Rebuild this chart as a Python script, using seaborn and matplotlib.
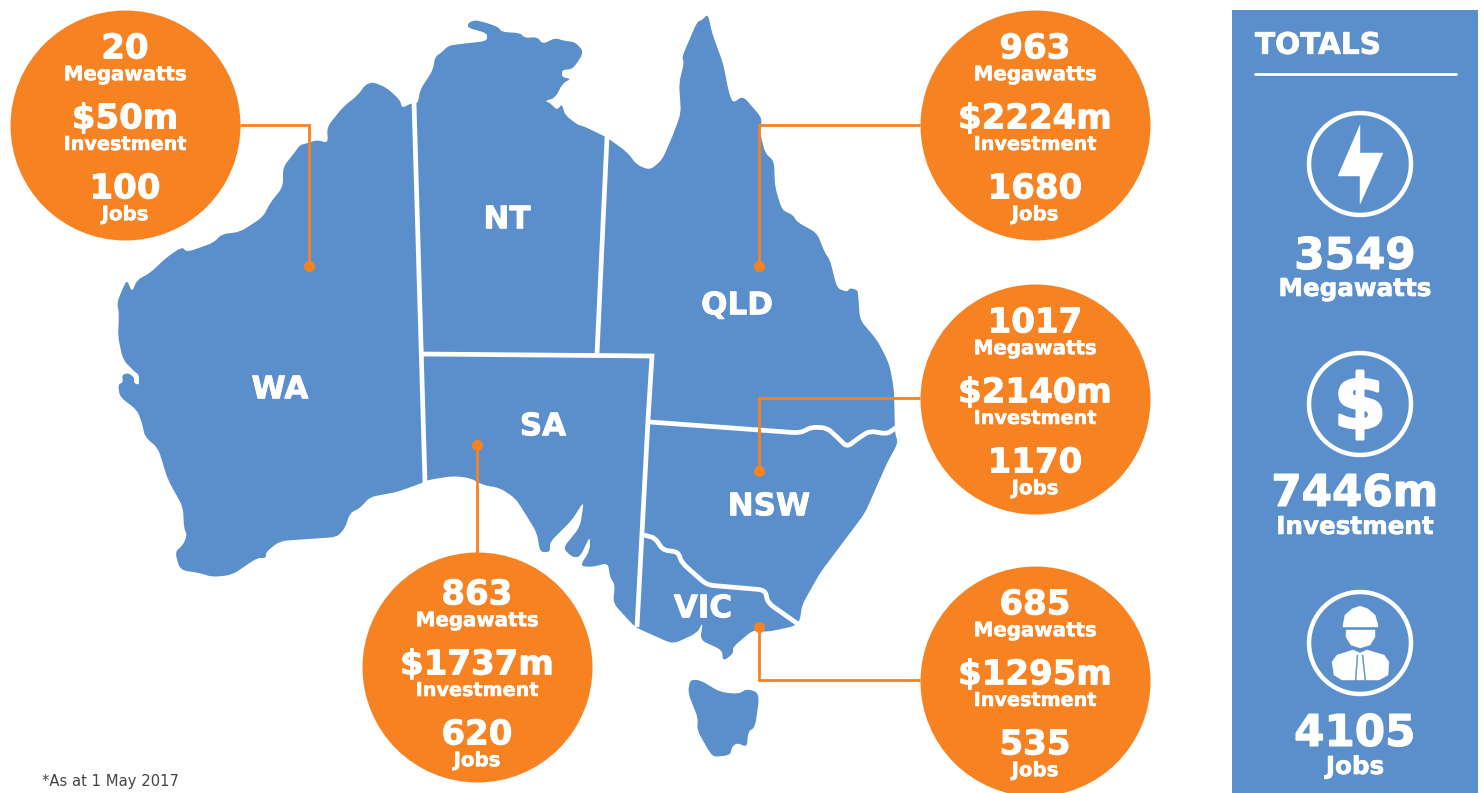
import math
import matplotlib
matplotlib.use("Agg")
import matplotlib.pyplot as plt
import matplotlib.patheffects as pe
from matplotlib.path import Path
from matplotlib.patches import PathPatch
import pandas as pd
import seaborn as sns

BLUE = "#5B8FCB"
ORANGE = "#F78222"
WHITE = "#FFFFFF"

states = ["WA", "QLD", "SA", "NSW", "VIC"]
megawatts = ["20", "963", "863", "1017", "685"]
investment = ["$50m", "$2224m", "$1737m", "$2140m", "$1295m"]
jobs = ["100", "1680", "620", "1170", "535"]
total_labels = ["Megawatts", "Investment", "Jobs"]
total_values = ["3549", "7446m", "4105"]
map_labels = ["WA", "NT", "QLD", "SA", "NSW", "VIC"]

mainland = [
    (412,103),(402,108),(400,100),(387,88),(373,82),(365,85),(358,95),(343,107),(327,127),(328,143),
    (317,140),(308,143),(300,145),(295,152),(283,167),(283,187),(270,203),(263,217),(240,232),(222,234),
    (213,243),(187,252),(182,247),(167,257),(150,273),(137,280),(132,292),(127,280),(122,290),(117,303),
    (119,313),(118,337),(123,360),(135,372),(139,375),(139,385),(134,383),(134,377),(128,373),(122,375),
    (123,382),(118,385),(120,397),(137,410),(142,423),(145,437),(158,448),(168,480),(183,507),(184,528),
    (187,535),(183,545),(175,552),(180,570),(200,573),(212,577),(232,575),(257,558),(266,558),(266,552),
    (280,541),(337,537),(345,528),(350,513),(360,508),(370,497),(397,492),(422,483),(428,480),(453,476),
    (470,478),(483,485),(500,488),(515,498),(523,510),(537,533),(540,552),(550,552),(550,542),(572,520),
    (584,501),(580,527),(563,548),(572,557),(580,557),(590,536),(590,550),(580,566),(592,567),(608,563),
    (610,577),(615,585),(613,603),(633,625),(639,629),(673,644),(697,633),(703,622),(700,640),(722,650),
    (723,661),(733,654),(733,647),(753,630),(767,632),(795,626),(800,620),(802,605),(820,573),(865,513),
    (887,463),(898,443),(895,433),(894,390),(890,367),(885,355),(877,340),(860,320),(858,293),(857,290),
    (850,288),(847,292),(837,288),(830,260),(825,253),(817,233),(797,222),(793,215),(782,210),(775,187),
    (774,161),(765,153),(760,132),(762,118),(743,96),(733,103),(729,93),(723,63),(712,33),(708,14),
    (702,20),(697,22),(682,57),(684,63),(679,83),(681,113),(673,135),(662,160),(650,170),(637,165),
    (627,152),(609,139),(604,136),(583,126),(578,125),(565,115),(562,104),(557,110),(550,103),(545,101),
    (555,98),(563,83),(571,79),(562,77),(562,70),(573,69),(584,52),(575,42),(565,41),(555,38),
    (543,44),(537,37),(525,38),(520,33),(502,32),(498,27),(487,23),(475,20),(468,23),(468,28),
    (487,33),(487,41),(452,45),(447,47),(442,52),(435,57),(433,70),(420,90),(418,103),
]
tasmania = [
    (690,680),(688,693),(698,718),(697,730),(710,753),(715,757),(730,755),(732,747),(737,743),(747,747),
    (748,732),(755,727),(759,700),(757,692),(747,689),(738,694),(720,692),(700,680),
]
straight_borders = [
    [(414,102),(425,483)],
    [(422,354),(652,356),(648,420),(637,627)],
    [(607,137),(597,354)],
]
curved_borders = [
    [(650,422),(800,433),(812,427),(827,428),(837,437),(847,447),(860,437),(870,431),(887,434),(897,427)],
    [(644,535),(655,538),(663,550),(678,552),(682,563),(707,585),(765,590),(768,603),(798,624)],
]
leaders = [
    [(240,125),(309,125),(309,266)],
    [(920,125),(759,125),(759,266)],
    [(477,445),(477,556)],
    [(920,398),(759,398),(759,471)],
    [(920,680),(759,680),(759,627)],
]
bolt = [(1360,125),(1338,176),(1360,176),(1360,204),(1383,153),(1360,153)]
helmet = [(1343,625),(1345,615),(1352,609),(1360,606),(1368,609),(1375,615),(1378,625),(1378,627),(1343,627)]
head = [(1346,630),(1375,630),(1375,637),(1370,645),(1360,648),(1351,645),(1346,637)]
body = [(1332,662),(1337,655),(1353,650),(1360,653),(1367,650),(1384,655),(1389,662),(1388,675),
        (1379,680),(1342,680),(1334,675)]
tie_left = [(1357,655),(1355,682),(1356,682),(1358,655)]
tie_right = [(1363,655),(1366,682),(1365,682),(1362,655)]

sns.set_theme(style="white")
plt.rcParams["font.family"] = ["DejaVu Sans"]

fig = plt.figure(figsize=(14.84, 7.93), dpi=100, facecolor="white")
ax = fig.add_axes([0, 0, 1, 1])

CAP = 0.729
PX = 72 / 100


def toward(v, other, t, limit):
    d = math.hypot(other[0] - v[0], other[1] - v[1])
    r = min(t * d, limit) / d if d else 0
    return (v[0] + (other[0] - v[0]) * r, v[1] + (other[1] - v[1]) * r)


def rounded(points, closed=True, t=0.35, limit=7):
    """Path through the outline points with softened corners."""
    n = len(points)
    verts, codes = [], []
    idx = range(n) if closed else range(1, n - 1)
    if not closed:
        verts.append(points[0]); codes.append(Path.MOVETO)
    for i in idx:
        v = points[i]
        a = toward(v, points[i - 1], t, limit)
        b = toward(v, points[(i + 1) % n], t, limit)
        verts.append(a); codes.append(Path.LINETO if verts[:-1] else Path.MOVETO)
        verts += [v, b]; codes += [Path.CURVE3, Path.CURVE3]
    if closed:
        verts.append(verts[0]); codes.append(Path.CLOSEPOLY)
    else:
        verts.append(points[-1]); codes.append(Path.LINETO)
    return Path(verts, codes)


def label(x, y, s, px, color=WHITE, ha="center", lift=1):
    ax.text(x, y - lift + CAP * px / 2, s, fontsize=px * PX, fontweight="bold",
            color=color, ha=ha, va="baseline", zorder=10,
            path_effects=[pe.withStroke(linewidth=px * 0.02, foreground=color)])


def poly(points, color, z):
    xs, ys = zip(*points)
    ax.fill(xs, ys, color=color, lw=0.3, zorder=z)


ax.add_patch(PathPatch(rounded(mainland), facecolor=BLUE, edgecolor="none", zorder=1))
ax.add_patch(PathPatch(rounded(tasmania), facecolor=BLUE, edgecolor="none", zorder=1))
for line in straight_borders:
    xs, ys = zip(*line)
    ax.plot(xs, ys, color=WHITE, lw=3.4, solid_joinstyle="miter", solid_capstyle="butt", zorder=2)
for line in curved_borders:
    ax.add_patch(PathPatch(rounded(line, closed=False), facecolor="none", edgecolor=WHITE,
                           lw=3.4, capstyle="butt", joinstyle="round", zorder=2))
for line in leaders:
    xs, ys = zip(*line)
    ax.plot(xs, ys, color=ORANGE, lw=2.0, solid_joinstyle="miter", solid_capstyle="butt", zorder=3)

circles = pd.DataFrame({
    "state": states,
    "x": [125, 1035, 477, 1035, 1035],
    "y": [125, 125, 667, 399, 681],
})
dots = pd.DataFrame({
    "state": states,
    "x": [309, 759, 477, 759, 759],
    "y": [266, 266, 445, 471, 627],
})
sns.scatterplot(data=circles, x="x", y="y", ax=ax, s=(230 * PX) ** 2, color=ORANGE,
                linewidth=0, zorder=4, legend=False)
sns.scatterplot(data=dots, x="x", y="y", ax=ax, s=(11 * PX) ** 2, color=ORANGE,
                linewidth=0, zorder=5, legend=False)

text_cy = [125, 125, 671, 399, 681]
for i, cx in enumerate(circles["x"]):
    cy = text_cy[i]
    label(cx, cy - 78, megawatts[i], 34)
    label(cx, cy - 51, "Megawatts", 19.8)
    label(cx, cy - 8, investment[i], 34)
    label(cx, cy + 19, "Investment", 19.2)
    label(cx, cy + 62, jobs[i], 34)
    label(cx, cy + 89, "Jobs", 19.8)

for s, x, y in zip(map_labels, [280, 507, 737, 543, 769, 703], [389, 219, 305, 426, 506, 608]):
    label(x, y, s, 31, lift=2)

# Totals panel
ax.add_patch(plt.Rectangle((1232, 10), 246, 790, facecolor=BLUE, edgecolor="none", zorder=1))
label(1255, 45, "TOTALS", 29.5, ha="left", lift=2)
ax.plot([1255, 1456], [74, 74], color=WHITE, lw=2.0, zorder=6)

rings = pd.DataFrame({"x": [1360, 1360, 1360], "y": [164, 404, 643]})
sns.scatterplot(data=rings, x="x", y="y", ax=ax, s=(102 * PX) ** 2, facecolor="none",
                edgecolor=WHITE, linewidth=4.5 * PX, zorder=6, legend=False)

poly(bolt, WHITE, 7)
ax.text(1360, 404 + 24, "$", fontsize=54, fontweight="bold", color=WHITE, ha="center",
        va="baseline", zorder=7, path_effects=[pe.withStroke(linewidth=2.2, foreground=WHITE)])
poly(helmet, WHITE, 7)
poly(head, WHITE, 7)
poly(body, WHITE, 7)
poly(tie_left, BLUE, 8)
poly(tie_right, BLUE, 8)

for v, name, vy, ny in zip(total_values, total_labels, [254, 491, 731], [288, 526, 766]):
    label(1355, vy, v, 43.6)
    label(1355, ny, name, 24.6)

ax.text(42, 786, "*As at 1 May 2017", fontsize=10.6, color="#444444", ha="left", va="baseline", zorder=10)

ax.set_xlim(0, 1484)
ax.set_ylim(793, 0)
ax.set_xlabel("")
ax.set_ylabel("")
ax.axis("off")

fig.savefig("out.png", dpi=100, facecolor="white")
